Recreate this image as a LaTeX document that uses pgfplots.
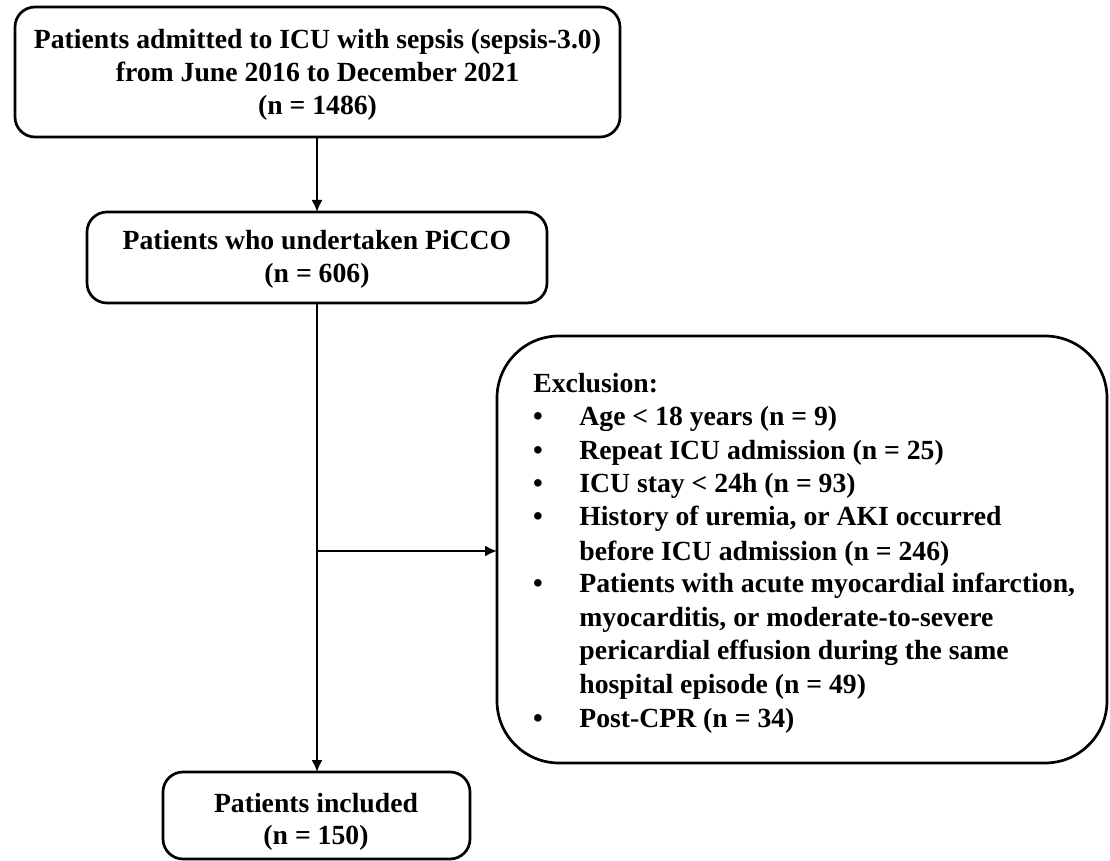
\documentclass[border=0pt]{standalone}
\usepackage{pgfplots}
\pgfplotsset{compat=1.18}
\usepackage{fontspec}
\setmainfont{Liberation Serif}
\usetikzlibrary{arrows.meta}
\begin{document}
\begin{tikzpicture}
\tikzset{t/.style={anchor=base, inner sep=0pt, font=\fontsize{13.85}{16.5}\selectfont\bfseries},
  bx/.style={draw=black, line width=1.35pt},
  conn/.style={black, line width=1pt, mark=none}}
\begin{axis}[hide axis, scale only axis, width=555pt, height=430.5pt,
  xmin=0, xmax=1110, ymin=0, ymax=861, y dir=reverse, clip=false]
\path (axis cs:0,0) rectangle (axis cs:1110,861);
% connectors
\addplot[conn, -{Latex[length=6pt,width=5.5pt]}] coordinates {(317,137) (317,212)};
\addplot[conn, -{Latex[length=6pt,width=5.5pt]}] coordinates {(317,303) (317,772)};
\addplot[conn, -{Latex[length=6pt,width=5.5pt]}] coordinates {(317,551) (497,551)};
% boxes
\draw[bx, rounded corners=10pt] (axis cs:15,7) rectangle (axis cs:620,137);
\draw[bx, rounded corners=10pt] (axis cs:87,212) rectangle (axis cs:547,303);
\draw[bx, rounded corners=31pt] (axis cs:497,336) rectangle (axis cs:1107,763);
\draw[bx, rounded corners=10pt] (axis cs:163,772) rectangle (axis cs:470,859);
% box 1 text
\node[t] at (axis cs:317.5,49) {Patients admitted to ICU with sepsis (sepsis-3.0)};
\node[t] at (axis cs:317.5,82) {from June 2016 to December 2021};
\node[t] at (axis cs:317.5,115) {(n = 1486)};
% box 2 text
\node[t] at (axis cs:317,250) {Patients who undertaken PiCCO};
\node[t] at (axis cs:317,283) {(n = 606)};
% box 4 text
\node[t] at (axis cs:316,812) {Patients included};
\node[t] at (axis cs:316,844) {(n = 150)};
% exclusion text
\node[t, anchor=base west] at (axis cs:533,393) {Exclusion:};
\foreach \y/\txt/\b in {426/{Age < 18 years (n = 9)}/1,
  460/{Repeat ICU admission (n = 25)}/1,
  493/{ICU stay < 24h (n = 93)}/1,
  526/{History of uremia, or AKI occurred}/1,
  560/{before ICU admission (n = 246)}/0,
  593/{Patients with acute myocardial infarction,}/1,
  626/{myocarditis, or moderate-to-severe}/0,
  660/{pericardial effusion during the same}/0,
  693/{hospital episode (n = 49)}/0,
  727/{Post-CPR (n = 34)}/1}{
  \edef\temp{\noexpand\node[t, anchor=base west] at (axis cs:579,\y) {\unexpanded\expandafter{\txt}};}\temp
  \ifnum\b=1
    \edef\temp{\noexpand\node[t, anchor=base] at (axis cs:538,\y) {\noexpand\textbullet};}\temp
  \fi
}
\end{axis}
\end{tikzpicture}
\end{document}
